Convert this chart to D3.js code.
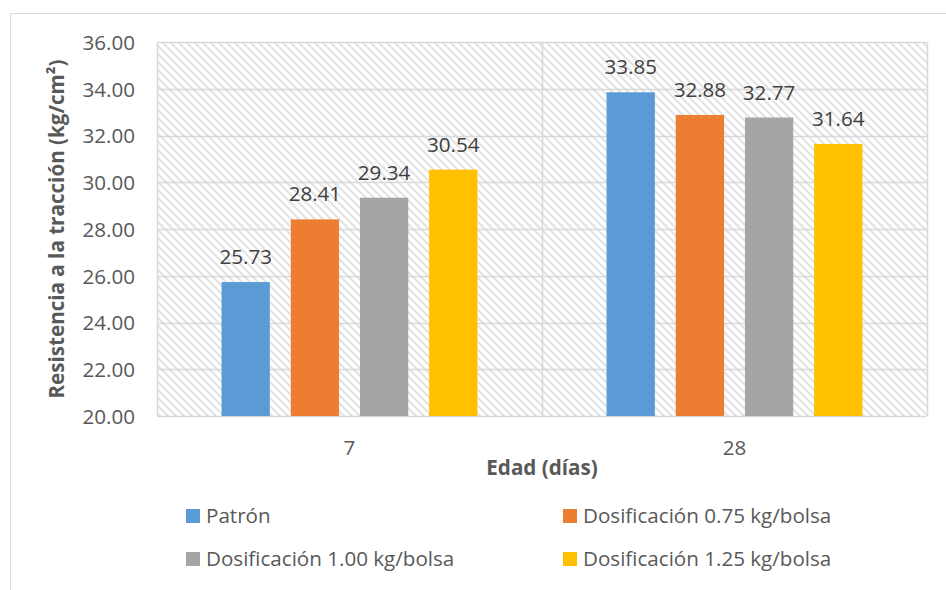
<!DOCTYPE html>
<html>
<head>
<meta charset="utf-8">
<script src="https://cdn.jsdelivr.net/npm/d3@7"></script>
<style>
  html, body { margin: 0; padding: 0; background: #fff; }
  svg { display: block; font-family: "Open Sans", "Noto Sans", sans-serif; }
</style>
</head>
<body>
<svg id="chart" width="946" height="590"></svg>
<script>
// Ages (days) on the x axis
const categories = ["7", "28"];
// Mix series
const seriesNames = [
  "Patrón",
  "Dosificación 0.75 kg/bolsa",
  "Dosificación 1.00 kg/bolsa",
  "Dosificación 1.25 kg/bolsa"
];
const seriesColors = ["#5B9BD5", "#ED7D31", "#A5A5A5", "#FFC000"];
// Tensile strength (kg/cm²), one array per series, ordered as categories
const patron = [25.73, 33.85];
const dos075 = [28.41, 32.88];
const dos100 = [29.34, 32.77];
const dos125 = [30.54, 31.64];
const yTicks = [20, 22, 24, 26, 28, 30, 32, 34, 36];

const seriesValues = [patron, dos075, dos100, dos125];

const svg = d3.select("#chart");
const plot = { left: 157, right: 927, top: 42, bottom: 416 };
const FS = 20.6;

// Outer chart frame
svg.append("rect")
  .attr("x", 10.5).attr("y", 13.5)
  .attr("width", 960).attr("height", 600)
  .attr("fill", "none").attr("stroke", "#d9d9d9").attr("stroke-width", 1);

// Diagonal hatch used as the plot-area fill
const defs = svg.append("defs");
const pat = defs.append("pattern")
  .attr("id", "hatch")
  .attr("patternUnits", "userSpaceOnUse")
  .attr("width", 8).attr("height", 8);
pat.append("rect").attr("width", 8).attr("height", 8).attr("fill", "#fff");
pat.append("path")
  .attr("d", "M-2,-2 L10,10 M-2,6 L2,10 M6,-2 L10,2")
  .attr("stroke", "#e3e3e3").attr("stroke-width", 2);

const x0 = d3.scaleBand().domain(categories).range([plot.left, plot.right]).padding(0);
const y = d3.scaleLinear().domain([20, 36]).range([plot.bottom, plot.top]);

// Bars within a category: 48px wide, 69px apart, centred in the band
const step = 69.2, barW = 48.3;
const groupW = step * (seriesNames.length - 1) + barW;
const x1 = d3.scaleBand().domain(d3.range(seriesNames.length))
  .range([0, groupW]).paddingInner((step - barW) / step).paddingOuter(0);

svg.append("rect")
  .attr("x", plot.left).attr("y", plot.top)
  .attr("width", plot.right - plot.left).attr("height", plot.bottom - plot.top)
  .attr("fill", "url(#hatch)");

// Horizontal gridlines
svg.append("g")
  .selectAll("line")
  .data(yTicks)
  .join("line")
  .attr("x1", plot.left).attr("x2", plot.right)
  .attr("y1", d => Math.round(y(d)) + 0.5).attr("y2", d => Math.round(y(d)) + 0.5)
  .attr("stroke", "#d9d9d9").attr("stroke-width", 1.5);

// Category separators and plot border sides
const seps = [plot.left, x0("28"), plot.right];
svg.append("g")
  .selectAll("line")
  .data(seps)
  .join("line")
  .attr("x1", d => Math.round(d) + 0.5).attr("x2", d => Math.round(d) + 0.5)
  .attr("y1", plot.top).attr("y2", plot.bottom)
  .attr("stroke", "#d9d9d9").attr("stroke-width", 1.5);

// Y axis labels
const yAxis = d3.axisLeft(y).tickValues(yTicks).tickFormat(d3.format(".2f")).tickSize(0).tickPadding(22);
const gy = svg.append("g").attr("transform", `translate(${plot.left},0)`).call(yAxis);
gy.select(".domain").remove();
gy.selectAll("text")
  .attr("fill", "#595959").attr("font-size", FS)
  .attr("font-family", "'Open Sans', sans-serif")
  .attr("dy", "0.36em");

// X axis category labels
const xAxis = d3.axisBottom(x0).tickSize(0).tickPadding(24);
const gx = svg.append("g").attr("transform", `translate(0,${plot.bottom})`).call(xAxis);
gx.select(".domain").remove();
gx.selectAll("text")
  .attr("fill", "#595959").attr("font-size", FS)
  .attr("font-family", "'Open Sans', sans-serif");

// Bars and value labels
const groups = svg.append("g")
  .selectAll("g")
  .data(categories)
  .join("g")
  .attr("transform", c => `translate(${x0(c) + (x0.bandwidth() - groupW) / 2},0)`);

groups.selectAll("rect")
  .data((c, ci) => seriesValues.map((vals, si) => ({ si, v: vals[ci] })))
  .join("rect")
  .attr("x", d => x1(d.si))
  .attr("width", x1.bandwidth())
  .attr("y", d => y(d.v))
  .attr("height", d => y(20) - y(d.v))
  .attr("fill", d => seriesColors[d.si]);

groups.selectAll("text")
  .data((c, ci) => seriesValues.map((vals, si) => ({ si, v: vals[ci] })))
  .join("text")
  .attr("x", d => x1(d.si) + x1.bandwidth() / 2)
  .attr("y", d => y(d.v) - 18)
  .attr("text-anchor", "middle")
  .attr("fill", "#404040").attr("font-size", FS)
  .text(d => d.v.toFixed(2));

// Axis titles
svg.append("text")
  .attr("transform", `translate(64,${(plot.top + plot.bottom) / 2}) rotate(-90)`)
  .attr("text-anchor", "middle")
  .attr("fill", "#595959").attr("font-size", 20.6).attr("font-weight", "bold")
  .text("Resistencia a la tracción (kg/cm²)");

svg.append("text")
  .attr("x", (plot.left + plot.right) / 2).attr("y", 475)
  .attr("text-anchor", "middle")
  .attr("fill", "#595959").attr("font-size", FS).attr("font-weight", "bold")
  .text("Edad (días)");

// Legend: two columns, two rows
const legendPos = [[186, 509], [563, 509], [186, 552], [563, 552]];
const legend = svg.append("g")
  .selectAll("g")
  .data(seriesNames)
  .join("g")
  .attr("transform", (d, i) => `translate(${legendPos[i][0]},${legendPos[i][1]})`);
legend.append("rect")
  .attr("width", 14).attr("height", 14)
  .attr("fill", (d, i) => seriesColors[i]);
legend.append("text")
  .attr("x", 20).attr("y", 14)
  .attr("fill", "#595959").attr("font-size", FS)
  .text(d => d);
</script>
</body>
</html>
